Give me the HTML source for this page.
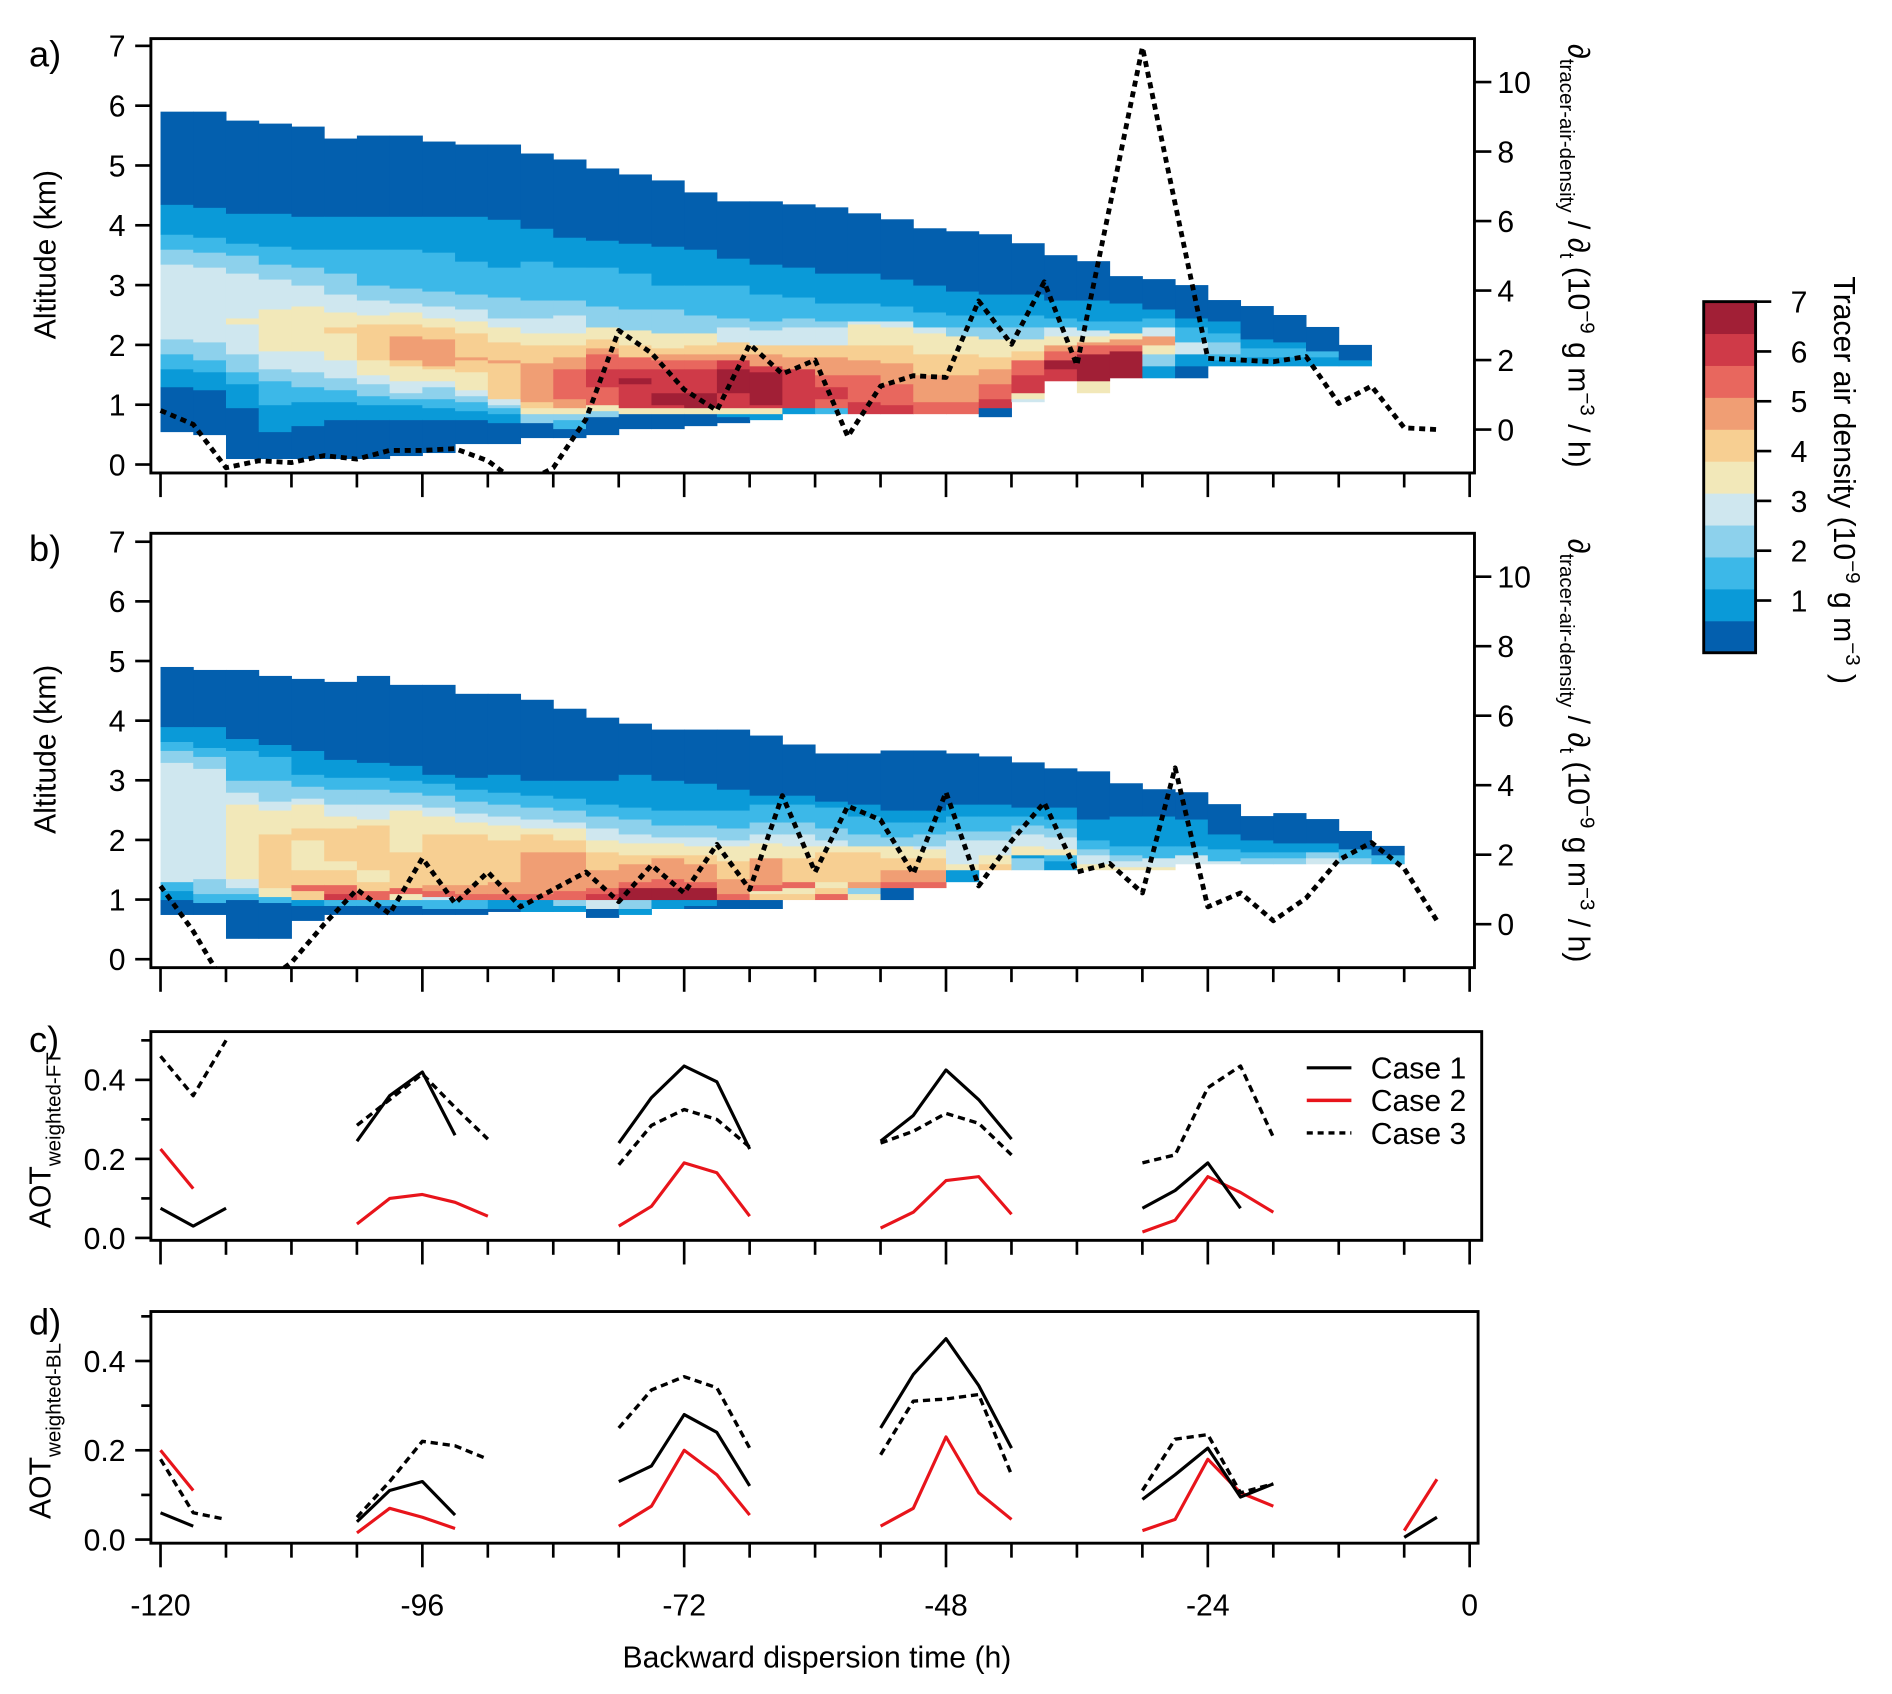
<!DOCTYPE html>
<html><head><meta charset="utf-8"><style>
html,body{margin:0;padding:0;background:#fff}
svg{display:block;font-family:"Liberation Sans",Arial,sans-serif}
</style></head><body>
<svg id="fig" width="1892" height="1694" viewBox="0 0 1568 1404">
<defs>
<clipPath id="clipA"><rect x="125" y="32" width="1097" height="360"/></clipPath>
<clipPath id="clipB"><rect x="125" y="442" width="1097" height="360"/></clipPath>
</defs>
<g id="root"></g>
</svg>
<script>
// ---------- data ----------
const levelColors = ["#035fae","#0a9ad8","#3cb8e8","#8dd1ec","#cfe7ef","#f2e8b9","#f7cf92","#f09e74","#e8675e","#cf3a48","#a11f36"];
const cbTicks = [1,2,3,4,5,6,7];
const startHourA = -120, startHourB = -120, colHours = 3;
const colsA = [
[0.55,0,1.3,1,1.6,2,1.85,3,2.1,4,3.35,3,3.6,2,3.85,1,4.35,0,5.9],
[0.5,0,1.25,1,1.55,2,1.75,3,2.05,4,3.3,3,3.55,2,3.8,1,4.3,0,5.9],
[0.1,0,0.95,1,1.35,2,1.55,3,1.85,4,2.35,5,2.45,4,3.2,3,3.5,2,3.7,1,4.2,0,5.75],
[0.1,0,0.55,1,1.0,2,1.4,3,1.6,4,1.9,5,2.6,4,3.1,3,3.35,2,3.65,1,4.2,0,5.7],
[0.1,0,0.65,1,1.05,2,1.3,3,1.55,4,1.9,5,2.65,4,3.0,3,3.3,2,3.6,1,4.15,0,5.65],
[0.1,0,0.75,1,1.05,2,1.25,3,1.45,4,1.75,5,2.2,6,2.3,5,2.55,4,2.85,3,3.2,2,3.6,1,4.15,0,5.45],
[0.1,0,0.75,1,1.0,2,1.15,3,1.35,4,1.5,5,1.75,6,2.35,5,2.5,4,2.75,3,3.0,2,3.6,1,4.15,0,5.5],
[0.15,0,0.75,1,1.0,2,1.1,3,1.2,4,1.4,5,1.65,6,1.75,7,2.15,6,2.35,5,2.55,4,2.7,3,2.95,2,3.6,1,4.15,0,5.5],
[0.2,0,0.75,1,0.95,2,1.1,3,1.3,4,1.4,5,1.6,6,1.65,7,2.1,6,2.3,5,2.45,4,2.65,3,2.9,2,3.55,1,4.15,0,5.4],
[0.35,0,0.75,1,0.9,2,1.05,3,1.15,4,1.25,5,1.55,6,1.75,7,1.8,6,2.2,5,2.4,4,2.6,3,2.85,2,3.4,1,4.15,0,5.35],
[0.35,0,0.7,1,0.85,2,0.95,3,1.0,4,1.1,6,1.7,7,1.75,6,2.05,5,2.3,4,2.45,3,2.8,2,3.3,1,4.1,0,5.35],
[0.45,0,0.7,3,0.85,5,0.95,6,1.05,7,1.7,6,2.0,5,2.2,4,2.45,3,2.75,2,3.4,1,3.95,0,5.2],
[0.45,0,0.6,2,0.75,3,0.85,5,0.95,7,1.1,8,1.6,7,1.8,6,2.0,5,2.2,4,2.5,3,2.75,2,3.3,1,3.8,0,5.1],
[0.5,0,0.8,3,0.9,5,1.0,8,1.3,9,1.6,8,1.85,7,1.95,6,2.1,5,2.3,3,2.65,2,3.3,1,3.75,0,4.95],
[0.6,0,0.85,5,0.95,9,1.35,10,1.45,9,1.6,8,1.8,6,2.0,5,2.25,3,2.6,2,3.2,1,3.7,0,4.85],
[0.6,0,0.85,5,0.95,9,1.0,10,1.2,9,1.6,8,1.75,7,1.85,6,1.95,5,2.2,3,2.6,2,3.0,1,3.65,0,4.75],
[0.65,0,0.85,5,0.95,10,1.2,9,1.6,8,1.75,7,1.85,6,2.0,5,2.2,3,2.5,2,3.0,1,3.6,0,4.55],
[0.7,0,0.8,1,0.85,5,0.95,9,1.2,10,1.6,9,1.75,7,1.85,6,2.05,4,2.3,3,2.45,2,3.0,1,3.45,0,4.4],
[0.75,1,0.85,5,0.95,9,1.0,10,1.55,9,1.65,7,1.85,6,2.0,4,2.25,3,2.4,2,2.85,1,3.35,0,4.4],
[0.85,1,0.95,9,1.6,7,1.8,6,2.0,4,2.3,3,2.45,2,2.8,1,3.3,0,4.35],
[0.85,2,0.95,8,1.1,9,1.3,8,1.5,7,1.8,6,2.0,4,2.3,3,2.4,2,2.7,1,3.2,0,4.3],
[0.85,9,1.05,8,1.5,7,1.75,6,2.0,5,2.35,4,2.4,2,2.7,1,3.2,0,4.2],
[0.85,9,1.0,8,1.35,7,1.7,6,2.0,5,2.3,4,2.4,2,2.65,1,3.1,0,4.1],
[0.85,8,1.05,7,1.5,6,1.85,5,2.2,4,2.3,2,2.55,1,3.0,0,3.95],
[0.85,8,1.05,7,1.5,6,1.85,5,2.15,3,2.3,2,2.5,1,2.9,0,3.9],
[0.8,0,0.95,9,1.1,8,1.35,7,1.6,6,1.8,5,2.1,3,2.3,2,2.5,1,2.85,0,3.85],
[1.05,4,1.1,5,1.2,9,1.5,8,1.75,6,1.9,5,2.1,3,2.3,2,2.5,1,2.85,0,3.7],
[1.4,9,1.6,10,1.75,8,1.9,7,2.0,5,2.15,4,2.3,2,2.45,1,2.75,0,3.5],
[1.2,5,1.4,10,1.85,8,2.0,7,2.05,5,2.15,4,2.25,2,2.4,1,2.75,0,3.4],
[1.45,10,1.9,8,2.0,7,2.1,5,2.2,2,2.4,1,2.7,0,3.15],
[1.45,1,1.65,3,1.85,5,2.0,7,2.15,4,2.3,2,2.45,1,2.6,0,3.1],
[1.45,0,1.65,1,1.85,4,2.05,2,2.3,1,2.45,0,3.0],
[1.65,1,1.75,2,1.85,3,2.05,2,2.2,1,2.4,0,2.75],
[1.65,1,1.8,2,1.95,1,2.1,0,2.65],
[1.65,1,1.8,2,1.95,1,2.05,0,2.5],
[1.65,1,1.8,2,1.9,0,2.3],
[1.65,1,1.75,0,2.0]
];
const colsB = [
[0.75,0,1.0,1,1.15,2,1.3,4,3.3,3,3.5,2,3.65,1,3.9,0,4.9],
[0.75,0,0.95,2,1.1,3,1.35,4,3.2,3,3.4,2,3.55,1,3.9,0,4.85],
[0.35,0,1.0,2,1.1,3,1.2,4,1.35,5,2.6,4,2.8,3,3.0,2,3.5,1,3.7,0,4.85],
[0.35,0,0.95,2,1.05,5,1.2,6,2.1,5,2.5,4,2.65,3,3.0,2,3.4,1,3.6,0,4.75],
[0.65,0,0.9,1,1.0,6,1.15,8,1.25,6,1.5,5,2.0,6,2.2,5,2.6,4,2.7,3,2.9,2,3.1,1,3.5,0,4.7],
[0.75,0,0.9,2,1.0,9,1.1,8,1.25,6,1.5,5,1.65,6,2.2,5,2.4,4,2.6,3,2.85,2,3.05,1,3.35,0,4.65],
[0.75,0,0.9,2,1.0,8,1.15,6,1.3,5,1.5,6,2.25,5,2.35,4,2.6,3,2.85,2,3.05,1,3.3,0,4.75],
[0.75,0,0.9,2,1.0,5,1.1,8,1.2,6,1.8,5,2.5,4,2.6,3,2.8,2,3.0,1,3.25,0,4.6],
[0.75,0,0.85,2,1.0,4,1.05,8,1.15,7,1.25,6,2.1,5,2.4,4,2.55,3,2.75,2,2.95,1,3.1,0,4.6],
[0.75,0,0.85,2,1.0,8,1.1,7,1.25,6,2.1,5,2.3,4,2.45,3,2.65,2,2.85,1,3.05,0,4.45],
[0.8,0,0.85,1,1.0,8,1.1,7,1.3,6,2.0,5,2.25,4,2.4,3,2.6,2,2.8,1,3.1,0,4.45],
[0.8,1,1.0,8,1.1,7,1.8,6,2.1,5,2.2,4,2.35,3,2.55,2,2.75,1,3.0,0,4.35],
[0.8,1,0.9,3,1.0,8,1.15,7,1.8,6,2.0,5,2.2,4,2.3,3,2.5,2,2.7,1,3.0,0,4.2],
[0.7,0,0.85,4,1.0,9,1.1,8,1.2,7,1.5,6,1.8,5,2.0,4,2.2,3,2.4,2,2.6,1,3.0,0,4.05],
[0.75,1,0.85,3,1.0,10,1.2,8,1.3,7,1.6,6,1.75,5,1.95,4,2.1,3,2.35,2,2.55,1,3.1,0,3.95],
[0.85,1,1.0,10,1.2,8,1.35,7,1.7,6,1.75,5,1.95,4,2.05,3,2.25,2,2.5,1,3.0,0,3.85],
[0.85,0,0.9,1,1.0,10,1.2,8,1.3,7,1.6,6,1.75,5,1.9,4,2.05,3,2.25,2,2.5,1,2.95,0,3.85],
[0.85,0,1.0,8,1.1,7,1.35,6,1.65,5,1.9,4,2.0,3,2.2,2,2.5,1,2.85,0,3.85],
[0.85,0,1.0,6,1.1,5,1.15,8,1.25,7,1.7,5,1.95,4,2.1,3,2.3,2,2.6,1,2.75,0,3.75],
[1.0,6,1.1,5,1.2,8,1.3,6,1.7,5,1.9,4,2.1,3,2.3,2,2.6,1,2.75,0,3.6],
[1.0,8,1.1,6,1.2,5,1.3,6,1.8,5,1.9,4,2.0,3,2.2,2,2.55,1,2.65,0,3.45],
[1.0,5,1.1,3,1.2,7,1.3,6,1.8,5,1.9,3,2.1,2,2.4,1,2.6,0,3.45],
[1.0,0,1.2,8,1.3,7,1.5,6,1.7,5,1.9,3,2.05,2,2.3,1,2.5,0,3.5],
[1.2,8,1.3,7,1.5,6,1.7,5,1.85,4,1.9,3,2.1,2,2.3,1,2.5,0,3.5],
[1.3,1,1.5,5,1.6,4,2.0,3,2.15,2,2.4,1,2.6,0,3.45],
[1.5,6,1.6,5,1.75,4,2.0,3,2.15,2,2.4,1,2.6,0,3.4],
[1.5,3,1.7,1,1.75,5,1.9,4,2.1,3,2.25,2,2.4,1,2.55,0,3.3],
[1.5,1,1.65,2,1.75,5,1.85,4,2.05,3,2.2,2,2.35,1,2.55,0,3.2],
[1.5,5,1.6,4,1.75,3,1.85,2,2.0,1,2.35,0,3.15],
[1.5,5,1.55,4,1.65,3,1.75,2,1.9,1,2.4,0,2.95],
[1.5,5,1.55,4,1.7,2,1.9,1,2.4,0,2.85],
[1.6,4,1.75,2,1.9,1,2.35,0,2.8],
[1.6,4,1.65,2,1.85,1,2.1,0,2.6],
[1.6,3,1.7,2,1.8,1,2.0,0,2.4],
[1.6,3,1.7,2,1.8,1,1.95,0,2.45],
[1.6,4,1.7,3,1.8,1,1.95,0,2.35],
[1.6,3,1.7,2,1.85,0,2.15],
[1.6,2,1.75,0,1.9]
];
const rateHours = [-120,-117,-114,-111,-108,-105,-102,-99,-96,-93,-90,-87,-84,-81,-78,-75,-72,-69,-66,-63,-60,-57,-54,-51,-48,-45,-42,-39,-36,-33,-30,-27,-24,-21,-18,-15,-12,-9,-6,-3];
const rateA = [0.55,0.15,-1.1,-0.9,-0.95,-0.75,-0.85,-0.6,-0.6,-0.55,-0.9,-1.6,-1.1,0.3,2.85,2.2,1.15,0.55,2.45,1.6,2.0,-0.2,1.25,1.55,1.5,3.7,2.45,4.25,1.85,6.4,11.0,6.5,2.05,2.0,1.95,2.1,0.75,1.25,0.05,0.0];
const rateB = [1.1,-0.2,-1.8,-1.8,-1.1,0.0,1.0,0.3,1.9,0.6,1.5,0.5,1.0,1.5,0.65,1.7,0.9,2.3,1.0,3.7,1.5,3.4,3.0,1.45,3.8,1.1,2.4,3.5,1.5,1.75,0.9,4.5,0.5,0.9,0.1,0.75,1.85,2.35,1.6,0.1];
const aotHours = [-120,-117,-114,-111,-108,-105,-102,-99,-96,-93,-90,-87,-84,-81,-78,-75,-72,-69,-66,-63,-60,-57,-54,-51,-48,-45,-42,-39,-36,-33,-30,-27,-24,-21,-18,-15,-12,-9,-6,-3];
const N = null;
const ftCase1 = [0.075,0.03,0.075,N,N,N,0.245,0.36,0.42,0.26,N,N,N,N,0.24,0.355,0.435,0.395,0.225,N,N,N,0.245,0.31,0.425,0.35,0.25,N,N,N,0.075,0.12,0.19,0.075,N,N,N,N,N,N];
const ftCase2 = [0.225,0.125,N,N,N,N,0.035,0.1,0.11,0.09,0.055,N,N,N,0.03,0.08,0.19,0.165,0.055,N,N,N,0.025,0.065,0.145,0.155,0.06,N,N,N,0.015,0.045,0.155,0.115,0.065,N,N,N,N,N];
const ftCase3 = [0.46,0.36,0.5,N,N,N,0.285,0.35,0.415,0.33,0.25,N,N,N,0.185,0.285,0.325,0.3,0.23,N,N,N,0.24,0.27,0.315,0.29,0.21,N,N,N,0.19,0.21,0.38,0.435,0.255,N,N,N,N,N];
const blCase1 = [0.06,0.03,N,N,N,N,0.04,0.11,0.13,0.055,N,N,N,N,0.13,0.165,0.28,0.24,0.12,N,N,N,0.25,0.37,0.45,0.345,0.205,N,N,N,0.09,0.145,0.205,0.095,0.125,N,N,N,0.005,0.05];
const blCase2 = [0.2,0.11,N,N,N,N,0.015,0.07,0.05,0.025,N,N,N,N,0.03,0.075,0.2,0.145,0.055,N,N,N,0.03,0.07,0.23,0.105,0.045,N,N,N,0.02,0.045,0.18,0.105,0.075,N,N,N,0.02,0.135];
const blCase3 = [0.18,0.06,0.045,N,N,N,0.05,0.13,0.22,0.21,0.18,N,N,N,0.25,0.335,0.365,0.34,0.205,N,N,N,0.19,0.31,0.315,0.325,0.145,N,N,N,0.11,0.225,0.235,0.105,0.125,N,N,N,N,N];
const xTickLabels = [-120,-96,-72,-48,-24,0];
const altTicks = [0,1,2,3,4,5,6,7];
const rateTicks = [0,2,4,6,8,10];
const aotTicks = [0.0,0.2,0.4];
const legendNames = ["Case 1","Case 2","Case 3"];

// ---------- helpers ----------
const NS = "http://www.w3.org/2000/svg";
const root = document.getElementById("root");
function mk(tag, attrs, parent){const e=document.createElementNS(NS,tag);for(const k in attrs)e.setAttribute(k,attrs[k]);(parent||root).appendChild(e);return e;}
const xH = h => 133 + (h + 120) * 9.0417;
const yAltA = a => 385 - a * 49.57;
const yAltB = a => 795 - a * 49.43;
const yRateA = v => 356 - v * 28.8;
const yRateB = v => 766 - v * 28.8;
const yFT = v => 1026 - v * 327.5;
const yBL = v => 1276 - v * 370;
const FS = 25;
const SUB = 17;

function heat(cols, yA, clip, name){
  const g = mk("g",{"clip-path":"url(#"+clip+")"});
  
  
  cols.forEach((c,i)=>{
    const x0 = xH(-120 + i*colHours), x1 = xH(-120 + (i+1)*colHours);
    let bot = c[0];
    for(let k=1;k<c.length;k+=2){
      const lvl=c[k], top=c[k+1];
      const r = mk("rect",{x:x0.toFixed(2),y:yA(top).toFixed(2),width:(x1-x0+0.4).toFixed(2),height:(yA(bot)-yA(top)+0.4).toFixed(2),fill:levelColors[lvl]},g);
      
      
      bot = top;
    }
  });
}
function line(hours, vals, xf, yf, attrs, name, clip){
  let segs=[], cur=[];
  vals.forEach((v,i)=>{ if(v===null){ if(cur.length)segs.push(cur); cur=[]; } else cur.push([xf(hours[i]),yf(v)]); });
  if(cur.length)segs.push(cur);
  const g = mk("g", clip?{"clip-path":"url(#"+clip+")"}:{});
  
  
  segs.forEach(s=>{
    if(s.length<2)return;
    const p = mk("polyline",Object.assign({points:s.map(q=>q[0].toFixed(1)+","+q[1].toFixed(1)).join(" "),fill:"none","stroke-linejoin":"round"},attrs),g);
    
    
  });
}
function frame(x,y,w,h,name){
  const r = mk("rect",{x,y,width:w,height:h,fill:"none",stroke:"#000","stroke-width":2.4});
  
  
}
function text(x,y,s,attrs,name){
  const t = mk("text",Object.assign({x,y,"font-size":FS,fill:"#000"},attrs||{}));
  t.textContent = s;
  
  
  return t;
}
function xTicks(yb, labels){
  for(let h=-120; h<=0; h+=6){
    const major = h%24===0;
    const l = mk("line",{x1:xH(h),x2:xH(h),y1:yb,y2:yb+(major?20:12),stroke:"#000","stroke-width":2.2});
    
    
  }
  if(labels) xTickLabels.forEach(h=>text(xH(h),yb+60,String(h),{"text-anchor":"middle"},'x-tick-label'));
}
function leftTicks(vals, yf, fmt, minorVals){
  vals.forEach(v=>{
    const l=mk("line",{x1:112,x2:125,y1:yf(v),y2:yf(v),stroke:"#000","stroke-width":2.2});
    
    
    text(104,yf(v)+9,fmt(v),{"text-anchor":"end"},'y-tick-label');
  });
  (minorVals||[]).forEach(v=>{
    const l=mk("line",{x1:117,x2:125,y1:yf(v),y2:yf(v),stroke:"#000","stroke-width":2.2});
    
    
  });
}
function rightTicks(vals, yf){
  vals.forEach(v=>{
    const l=mk("line",{x1:1222,x2:1236,y1:yf(v),y2:yf(v),stroke:"#000","stroke-width":2.2});
    
    
    text(1241,yf(v)+9,String(v),{},'right-y-tick-label');
  });
}
function rightTitle(cx, cy){
  const t = mk("text",{x:0,y:0,"font-size":FS,transform:`translate(${cx},${cy}) rotate(90)`,"text-anchor":"middle"});
  
  
  t.innerHTML = '∂<tspan font-size="'+SUB+'" dy="7">tracer-air-density</tspan><tspan dy="-7"> / ∂</tspan><tspan font-size="'+SUB+'" dy="7">t</tspan><tspan dy="-7"> (10</tspan><tspan font-size="'+SUB+'" dy="-10">−9</tspan><tspan dy="10"> g m</tspan><tspan font-size="'+SUB+'" dy="-10">−3</tspan><tspan dy="10"> / h)</tspan>';
}
function leftTitle(cx, cy, html, name){
  const t = mk("text",{x:0,y:0,"font-size":FS,transform:`translate(${cx},${cy}) rotate(-90)`,"text-anchor":"middle"});
  
  
  t.innerHTML = html;
}

// ---------- panel a ----------
heat(colsA, yAltA, "clipA", "heatmap-a");
line(rateHours, rateA, xH, yRateA, {stroke:"#000","stroke-width":4,"stroke-dasharray":"5,4"}, "tracer-rate-line-a", "clipA");
frame(125,32,1097,360,"panel-a-frame");
leftTicks(altTicks, yAltA, v=>String(v));
rightTicks(rateTicks, yRateA);
xTicks(392,false);
text(24,55,"a)",{"font-size":30},"panel-a-label");
leftTitle(46,211,"Altitude (km)","y-axis-title-a");
rightTitle(1300,212);

// ---------- panel b ----------
heat(colsB, yAltB, "clipB", "heatmap-b");
line(rateHours, rateB, xH, yRateB, {stroke:"#000","stroke-width":4,"stroke-dasharray":"5,4"}, "tracer-rate-line-b", "clipB");
frame(125,442,1097,360,"panel-b-frame");
leftTicks(altTicks, yAltB, v=>String(v));
rightTicks(rateTicks, yRateB);
xTicks(802,false);
text(24,465,"b)",{"font-size":30},"panel-b-label");
leftTitle(46,621,"Altitude (km)","y-axis-title-b");
rightTitle(1300,622);

// ---------- panel c ----------
frame(125,855,1103,173,"panel-c-frame");
line(aotHours, ftCase2, xH, yFT, {stroke:"#e8141b","stroke-width":2.6}, "ft-case2-line");
line(aotHours, ftCase1, xH, yFT, {stroke:"#000","stroke-width":2.6}, "ft-case1-line");
line(aotHours, ftCase3, xH, yFT, {stroke:"#000","stroke-width":2.8,"stroke-dasharray":"6,4"}, "ft-case3-line");
leftTicks(aotTicks, yFT, v=>v.toFixed(1), [0.1,0.3,0.5]);
xTicks(1028,false);
text(24,872,"c)",{"font-size":30},"panel-c-label");
leftTitle(42,945,'AOT<tspan font-size="'+SUB+'" dy="8">weighted-FT</tspan>',"y-axis-title-c");
const legStyles=[{stroke:"#000","stroke-width":2.6},{stroke:"#e8141b","stroke-width":2.8},{stroke:"#000","stroke-width":2.8,"stroke-dasharray":"5,4"}];
legendNames.forEach((n,i)=>{
  const y=885+i*27;
  const l=mk("line",Object.assign({x1:1083,x2:1120,y1:y,y2:y},legStyles[i]));
  
  
  text(1136,y+9,n,{},'legend-entry');
});

// ---------- panel d ----------
frame(125,1087,1100,192,"panel-d-frame");
line(aotHours, blCase2, xH, yBL, {stroke:"#e8141b","stroke-width":2.6}, "bl-case2-line");
line(aotHours, blCase1, xH, yBL, {stroke:"#000","stroke-width":2.6}, "bl-case1-line");
line(aotHours, blCase3, xH, yBL, {stroke:"#000","stroke-width":2.8,"stroke-dasharray":"6,4"}, "bl-case3-line");
leftTicks(aotTicks, yBL, v=>v.toFixed(1), [0.1,0.3,0.5]);
xTicks(1279,true);
text(24,1106,"d)",{"font-size":30},"panel-d-label");
leftTitle(42,1186,'AOT<tspan font-size="'+SUB+'" dy="8">weighted-BL</tspan>',"y-axis-title-d");
text(677,1382,"Backward dispersion time (h)",{"text-anchor":"middle"},"x-axis-title");

// ---------- colorbar ----------
const cbTop=250, cbBot=541, cbX=1412, cbW=43;
const band=(cbBot-cbTop)/levelColors.length;
levelColors.forEach((c,i)=>{
  const r=mk("rect",{x:cbX,y:(cbBot-(i+1)*band).toFixed(2),width:cbW,height:(band+0.4).toFixed(2),fill:c});
  
  
});
frame(cbX,cbTop,cbW,cbBot-cbTop,"colorbar-frame");
const yCb = v => cbBot - v*(cbBot-cbTop-2)/7 - 2;
cbTicks.forEach(v=>{
  const l=mk("line",{x1:cbX+cbW,x2:cbX+cbW+13,y1:yCb(v),y2:yCb(v),stroke:"#000","stroke-width":2.2});
  
  
  text(1484,yCb(v)+9,String(v),{},'colorbar-tick-label');
});
(function(){
  const t = mk("text",{x:0,y:0,"font-size":FS,transform:"translate(1520,398) rotate(90)","text-anchor":"middle"});
  
  
  t.innerHTML='Tracer air density (10<tspan font-size="'+SUB+'" dy="-10">−9</tspan><tspan dy="10"> g m</tspan><tspan font-size="'+SUB+'" dy="-10">−3</tspan><tspan dy="10"> )</tspan>';
})();
</script>
</body></html>
